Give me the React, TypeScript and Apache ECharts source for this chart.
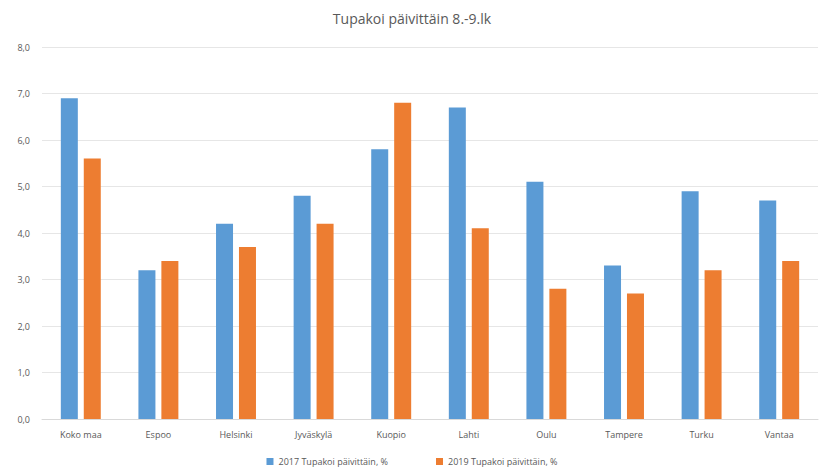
import React, { useEffect, useRef } from "react";
import * as echarts from "echarts";

const categories = ["Koko maa", "Espoo", "Helsinki", "Jyväskylä", "Kuopio", "Lahti", "Oulu", "Tampere", "Turku", "Vantaa"];
const values2017 = [6.9, 3.2, 4.2, 4.8, 5.8, 6.7, 5.1, 3.3, 4.9, 4.7];
const values2019 = [5.6, 3.4, 3.7, 4.2, 6.8, 4.1, 2.8, 2.7, 3.2, 3.4];
const seriesNames = ["2017 Tupakoi päivittäin, %", "2019 Tupakoi päivittäin, %"];
const titleText = "Tupakoi päivittäin 8.-9.lk";

export default function App() {
  const ref = useRef<HTMLDivElement>(null);
  useEffect(() => {
    if (!ref.current) return;
    const chart = echarts.init(ref.current, undefined, { renderer: "svg" });
    const font = "'Open Sans', 'Noto Sans', sans-serif";
    chart.setOption({
      animation: false,
      backgroundColor: "#ffffff",
      title: {
        text: titleText,
        left: "center",
        top: 6,
        textStyle: { fontSize: 14, fontWeight: "normal", color: "#595959", fontFamily: font },
      },
      legend: {
        bottom: 3,
        left: "center",
        itemWidth: 7,
        itemHeight: 7,
        itemGap: 48,
        icon: "rect",
        textStyle: { fontSize: 9, color: "#595959", fontFamily: font },
        data: seriesNames,
      },
      grid: { left: 42, right: 6, top: 47, bottom: 55, containLabel: false },
      xAxis: {
        type: "category",
        data: categories,
        axisLine: { lineStyle: { color: "#d9d9d9" } },
        axisTick: { show: false },
        axisLabel: { fontSize: 9, color: "#595959", fontFamily: font, margin: 11 },
      },
      yAxis: {
        type: "value",
        min: 0,
        max: 8,
        interval: 1,
        axisLine: { show: false },
        axisTick: { show: false },
        splitLine: { lineStyle: { color: "#e6e6e6", width: 1 } },
        axisLabel: {
          fontSize: 9,
          color: "#595959",
          fontFamily: font,
          margin: 12,
          formatter: (v: number) => v.toFixed(1).replace(".", ","),
        },
      },
      series: [
        {
          name: seriesNames[0],
          type: "bar",
          data: values2017,
          barWidth: 17,
          barGap: "35%",
          itemStyle: { color: "#5B9BD5" },
        },
        {
          name: seriesNames[1],
          type: "bar",
          data: values2019,
          barWidth: 17,
          itemStyle: { color: "#ED7D31" },
        },
      ],
    });
    return () => chart.dispose();
  }, []);
  return <div ref={ref} style={{ position: "fixed", left: 0, top: 0, width: 824, height: 474 }} />;
}
